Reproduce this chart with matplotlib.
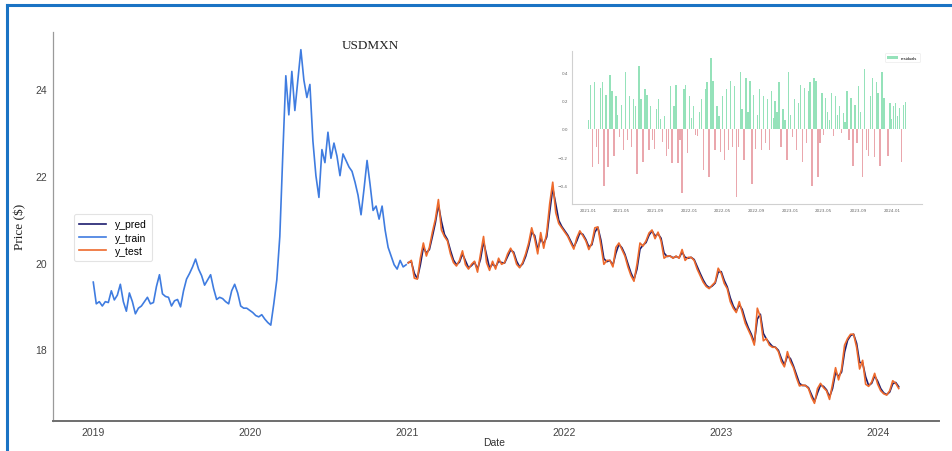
import numpy as np
import pandas as pd
import matplotlib
matplotlib.use("Agg")
import matplotlib.pyplot as plt
import matplotlib.dates as mdates
from matplotlib.lines import Line2D

# ---- data -------------------------------------------------------------
train_start = "2019-01-02"
test_start = "2021-01-04"

y_train = [
    19.55, 19.05, 19.10, 19.00, 19.10, 19.08, 19.35, 19.14, 19.25, 19.50,
    19.10, 18.88, 19.30, 19.10, 18.82, 18.95, 19.00, 19.10, 19.20, 19.05,
    19.08, 19.45, 19.72, 19.28, 19.22, 19.20, 19.00, 19.12, 19.15, 18.98,
    19.35, 19.62, 19.75, 19.90, 20.08, 19.85, 19.70, 19.48, 19.60, 19.72,
    19.40, 19.15, 19.20, 19.17, 19.10, 19.05, 19.35, 19.50, 19.30, 19.00,
    18.95, 18.95, 18.90, 18.85, 18.78, 18.75, 18.80, 18.70, 18.62, 18.56,
    19.05, 19.60, 20.60, 22.50, 24.30, 23.40, 24.40, 23.50, 24.20, 24.90,
    24.20, 23.80, 24.10, 22.80, 22.00, 21.50, 22.60, 22.30, 23.00, 22.40,
    22.75, 22.45, 22.00, 22.50, 22.35, 22.20, 22.10, 21.85, 21.55, 21.10,
    21.70, 22.35, 21.80, 21.20, 21.30, 21.00, 21.30, 20.75, 20.35, 20.15,
    19.95, 19.85, 20.05, 19.90, 19.95,
]

y_test = [
    19.99, 20.05, 19.64, 19.62, 20.10, 20.45, 20.15, 20.35, 20.70, 21.00,
    21.45, 20.75, 20.60, 20.50, 20.20, 20.00, 19.92, 20.05, 20.27, 19.95,
    19.85, 19.96, 20.03, 19.78, 20.20, 20.60, 20.00, 19.82, 20.03, 19.85,
    20.10, 19.96, 20.00, 20.20, 20.33, 20.20, 19.96, 19.88, 20.00, 20.20,
    20.45, 20.80, 20.55, 20.20, 20.69, 20.33, 20.69, 21.36, 21.85, 21.15,
    20.90, 20.80, 20.70, 20.60, 20.45, 20.31, 20.57, 20.73, 20.62, 20.50,
    20.30, 20.45, 20.80, 20.82, 20.40, 19.96, 20.05, 20.05, 19.90, 20.35,
    20.45, 20.30, 20.15, 19.90, 19.70, 19.57, 19.96, 20.45, 20.38, 20.50,
    20.68, 20.75, 20.55, 20.70, 20.50, 20.10, 20.15, 20.15, 20.10, 20.15,
    20.10, 20.30, 20.05, 20.12, 20.12, 20.05, 19.85, 19.70, 19.55, 19.45,
    19.40, 19.48, 19.55, 19.87, 19.75, 19.52, 19.40, 19.10, 18.95, 18.85,
    19.10, 18.85, 18.60, 18.45, 18.30, 18.10, 18.95, 18.75, 18.20, 18.25,
    18.10, 18.05, 18.05, 17.95, 17.72, 17.60, 17.95, 17.72, 17.58, 17.35,
    17.16, 17.18, 17.17, 17.10, 16.90, 16.76, 17.10, 17.22, 17.12, 17.05,
    16.85, 17.20, 17.58, 17.30, 17.55, 18.10, 18.25, 18.35, 18.35, 18.05,
    17.55, 17.75, 17.20, 17.15, 17.25, 17.45, 17.20, 17.05, 16.98, 16.95,
    17.05, 17.28, 17.22, 17.10,
]

y_pred = [
    20.00, 20.02, 19.75, 19.63, 19.95, 20.35, 20.22, 20.30, 20.60, 20.92,
    21.33, 20.95, 20.65, 20.53, 20.28, 20.06, 19.95, 20.01, 20.20, 20.04,
    19.88, 19.93, 20.01, 19.85, 20.08, 20.48, 20.17, 19.87, 19.97, 19.90,
    20.03, 20.00, 19.99, 20.14, 20.29, 20.24, 20.03, 19.90, 19.97, 20.14,
    20.38, 20.70, 20.62, 20.30, 20.55, 20.43, 20.59, 21.17, 21.71, 21.35,
    20.97, 20.83, 20.73, 20.63, 20.49, 20.35, 20.50, 20.68, 20.65, 20.53,
    20.36, 20.41, 20.70, 20.81, 20.52, 20.09, 20.02, 20.05, 19.94, 20.22,
    20.42, 20.34, 20.19, 19.97, 19.76, 19.61, 19.85, 20.31, 20.40, 20.46,
    20.63, 20.73, 20.61, 20.66, 20.56, 20.22, 20.14, 20.15, 20.11, 20.14,
    20.11, 20.24, 20.12, 20.10, 20.12, 20.07, 19.91, 19.75, 19.60, 19.48,
    19.42, 19.46, 19.53, 19.78, 19.79, 19.59, 19.44, 19.19, 19.00, 18.88,
    19.03, 18.92, 18.68, 18.50, 18.35, 18.16, 18.70, 18.81, 18.37, 18.24,
    18.15, 18.07, 18.05, 17.98, 17.79, 17.64, 17.85, 17.79, 17.62, 17.42,
    17.22, 17.17, 17.17, 17.12, 16.96, 16.80, 17.00, 17.18, 17.15, 17.07,
    16.91, 17.10, 17.47, 17.38, 17.48, 17.94, 18.21, 18.32, 18.35, 18.14,
    17.70, 17.69, 17.37, 17.17, 17.22, 17.39, 17.27, 17.10, 17.00, 16.96,
    17.02, 17.21, 17.24, 17.14,
]

residuals = [
    0.06, 0.31, -0.27, 0.33, -0.13, -0.25, 0.29, 0.33, -0.40, 0.24,
    -0.27, 0.38, 0.27, -0.19, 0.23, 0.10, -0.06, 0.17, -0.15, 0.40,
    -0.08, 0.23, -0.13, 0.21, 0.16, -0.32, 0.44, 0.21, -0.23, 0.28,
    0.24, -0.15, 0.16, -0.08, -0.14, 0.14, 0.21, 0.07, -0.09, 0.09,
    -0.19, -0.14, 0.30, -0.24, 0.16, 0.31, -0.24, -0.08, -0.45, 0.28,
    0.31, -0.17, 0.23, 0.08, 0.16, -0.04, -0.05, 0.12, 0.21, -0.29,
    0.28, 0.33, -0.34, 0.50, 0.34, -0.15, 0.16, 0.09, -0.16, 0.23,
    -0.22, 0.28, -0.15, 0.34, -0.13, 0.30, -0.48, -0.13, 0.40, 0.14,
    -0.22, 0.36, 0.12, 0.34, -0.39, 0.24, -0.14, 0.10, 0.28, -0.15,
    0.23, -0.10, 0.21, -0.15, 0.27, 0.08, 0.20, 0.12, 0.33, -0.13,
    0.14, 0.06, -0.22, 0.40, 0.10, -0.06, 0.21, -0.15, 0.18, 0.31,
    -0.23, 0.29, -0.10, 0.27, 0.33, -0.40, 0.36, 0.34, -0.34, -0.10,
    0.25, -0.04, 0.22, 0.12, 0.06, 0.25, -0.05, 0.23, 0.10, 0.16,
    -0.03, 0.11, 0.05, 0.27, -0.08, 0.22, -0.26, 0.17, -0.10, 0.30,
    0.12, -0.34, 0.42, -0.15, -0.19, 0.23, 0.36, -0.20, 0.33, 0.25,
    -0.26, 0.40, 0.22, 0.00, -0.19, 0.18, 0.07, 0.16, 0.18, 0.09,
    0.15, -0.23, 0.17, 0.19,
]

train_dates = pd.date_range(train_start, periods=len(y_train), freq="7D")
test_dates = pd.date_range(test_start, periods=len(y_test), freq="7D")
resid_arr = np.array(residuals)

# ---- figure -----------------------------------------------------------
W, H = 952, 452
fig = plt.figure(figsize=(W / 100, H / 100), dpi=100)
fig.patch.set_facecolor("white")

def fx(px):
    return px / W

def fy(py):
    return 1 - py / H

sans = ["Liberation Sans", "DejaVu Sans"]
serif = ["Liberation Serif", "DejaVu Serif"]

ax = fig.add_axes([fx(53), fy(422), fx(939) - fx(53), fy(33) - fy(422)])
ax.plot(test_dates, y_pred, color="#1c1c6e", lw=1.2, label="y_pred")
ax.plot(train_dates, y_train, color="#3f7ce0", lw=1.2, label="y_train")
ax.plot(test_dates, y_test, color="#ee6a2c", lw=1.2, label="y_test")

ax.xaxis.set_major_locator(mdates.YearLocator())
ax.xaxis.set_major_formatter(mdates.DateFormatter("%Y"))
ax.set_yticks([18, 20, 22, 24])
ax.tick_params(length=0, labelsize=7.5, colors="#444444", pad=4)
for lab in ax.get_xticklabels() + ax.get_yticklabels():
    lab.set_family(sans)
for s in ("top", "right"):
    ax.spines[s].set_visible(False)
ax.spines["left"].set_color("#9a9a9a")
ax.spines["left"].set_linewidth(0.9)
ax.spines["bottom"].set_color("#6e6e6e")
ax.spines["bottom"].set_linewidth(1.4)

ax.set_xlabel("Date", family=sans, fontsize=7.5, color="#333333")
ax.xaxis.set_label_coords(0.498, -0.041)
fig.text(fx(20), fy(227), "Price ($)", family=serif, fontsize=9.5,
         rotation=90, ha="center", va="center", color="#222222")
fig.text(fx(370), fy(46), "USDMXN", family=serif, fontsize=9.5,
         ha="center", va="center", color="#222222")

leg = ax.legend(loc="upper left", bbox_to_anchor=(0.018, 0.545),
                prop={"family": sans, "size": 7.5}, frameon=True,
                handlelength=2.6, borderpad=0.5, labelspacing=0.3,
                fancybox=True)
leg.get_frame().set_edgecolor("#dddddd")
leg.get_frame().set_linewidth(0.8)

# ---- residuals inset ---------------------------------------------------
axi = fig.add_axes([fx(572), fy(205), fx(922) - fx(572), fy(52) - fy(205)])
pos = np.where(resid_arr >= 0, resid_arr, 0)
neg = np.where(resid_arr < 0, resid_arr, 0)
axi.bar(test_dates, pos, width=5, color="#4fcf8c", alpha=0.6,
        linewidth=0, label="residuals")
axi.bar(test_dates, neg, width=5, color="#d9606a", alpha=0.55,
        linewidth=0)
axi.set_yticks([-0.4, -0.2, 0.0, 0.2, 0.4])
axi.xaxis.set_major_locator(mdates.MonthLocator(bymonth=[1, 5, 9]))
axi.xaxis.set_major_formatter(mdates.DateFormatter("%Y-%m"))
axi.tick_params(length=0, labelsize=3, colors="#666666", pad=3)
for s in ("top", "right"):
    axi.spines[s].set_visible(False)
for s in ("left", "bottom"):
    axi.spines[s].set_color("#d0d0d0")
    axi.spines[s].set_linewidth(0.8)
legi = axi.legend(loc="upper right", prop={"family": sans, "size": 3},
                  frameon=True, handlelength=2.5, borderpad=0.6)
legi.get_frame().set_edgecolor("#e6e6e6")
legi.get_frame().set_linewidth(0.5)

# ---- page border -------------------------------------------------------
fig.add_artist(Line2D([fx(7), 1.0], [fy(6), fy(6)], color="#1a73c4", lw=2.2))
fig.add_artist(Line2D([fx(7), fx(7)], [fy(6), 0.0], color="#1a73c4", lw=2.2))

fig.savefig("out.png", dpi=100, facecolor="white")
